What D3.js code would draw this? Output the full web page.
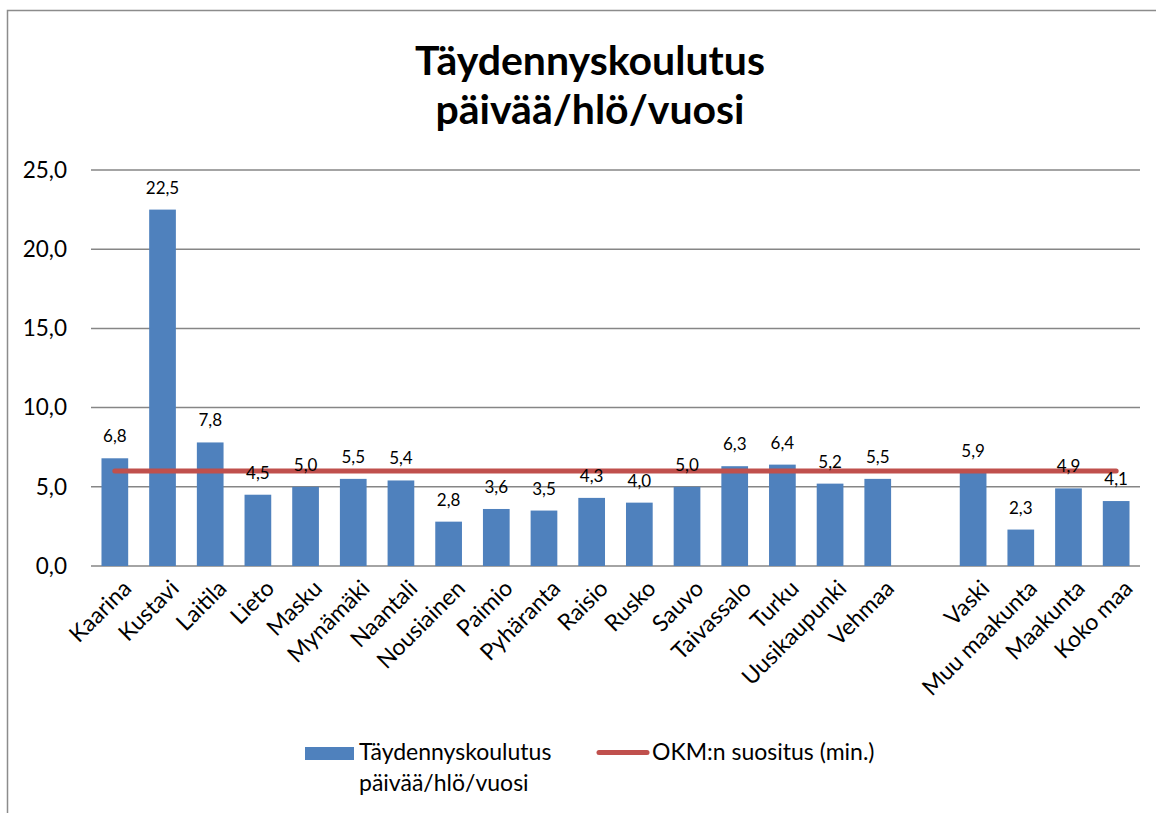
<!DOCTYPE html>
<html>
<head>
<meta charset="utf-8">
<script src="https://cdn.jsdelivr.net/npm/d3@7"></script>
<style>
  body { margin: 0; background: #fff; }
  text { font-family: Lato, "Open Sans", sans-serif; fill: #000; }
</style>
</head>
<body>
<div id="chart"></div>
<script>
// data
var categories = ["Kaarina", "Kustavi", "Laitila", "Lieto", "Masku", "Mynämäki", "Naantali",
  "Nousiainen", "Paimio", "Pyhäranta", "Raisio", "Rusko", "Sauvo", "Taivassalo", "Turku",
  "Uusikaupunki", "Vehmaa", "", "Vaski", "Muu maakunta", "Maakunta", "Koko maa"];
var values = [6.8, 22.5, 7.8, 4.5, 5.0, 5.5, 5.4, 2.8, 3.6, 3.5, 4.3, 4.0, 5.0, 6.3, 6.4,
  5.2, 5.5, null, 5.9, 2.3, 4.9, 4.1];
var recommendation = 6.0;
var yTicks = [0, 5, 10, 15, 20, 25];
var titleLines = ["Täydennyskoulutus", "päivää/hlö/vuosi"];
var legendLines = ["Täydennyskoulutus", "päivää/hlö/vuosi"];
var lineName = "OKM:n suositus (min.)";

var svgWidth = 1156;
var svgHeight = 813;

var margin = { top: 170, right: 16, bottom: 247, left: 91 };
var width = svgWidth - margin.left - margin.right;
var height = svgHeight - margin.top - margin.bottom;

var fmt = function(v) { return d3.format(".1f")(v).replace(".", ","); };

var svg = d3.select("#chart")
  .append("svg")
  .attr("width", svgWidth)
  .attr("height", svgHeight);

// outer chart border
svg.append("rect")
  .attr("x", 7.5)
  .attr("y", 10.5)
  .attr("width", svgWidth + 20)
  .attr("height", svgHeight + 20)
  .attr("fill", "none")
  .attr("stroke", "#8c8c8c")
  .attr("stroke-width", 1.5);

// title
svg.append("text")
  .attr("x", 590)
  .attr("y", 75)
  .attr("text-anchor", "middle")
  .style("font-size", "41px")
  .style("font-weight", "bold")
  .selectAll("tspan")
  .data(titleLines)
  .enter()
  .append("tspan")
  .attr("x", 590)
  .attr("dy", (d, i) => i === 0 ? 0 : 49)
  .text(d => d);

var chartGroup = svg.append("g")
  .attr("transform", `translate(${margin.left},${margin.top})`);

var xScale = d3.scaleBand()
  .domain(d3.range(categories.length))
  .range([0, width])
  .paddingInner(0.44)
  .paddingOuter(0.22);

var yScale = d3.scaleLinear()
  .domain([0, 25])
  .range([height, 0]);

// gridlines
chartGroup.append("g")
  .selectAll("line")
  .data(yTicks)
  .enter()
  .append("line")
  .attr("x1", 0)
  .attr("x2", width)
  .attr("y1", d => yScale(d))
  .attr("y2", d => yScale(d))
  .attr("stroke", "#868686")
  .attr("stroke-width", 1.5);

// y axis labels
var leftAxis = d3.axisLeft(yScale).tickValues(yTicks).tickFormat(fmt).tickSize(0).tickPadding(24);
var yAxis = chartGroup.append("g").call(leftAxis);
yAxis.select(".domain").remove();
yAxis.selectAll("text")
  .style("font-size", "22.5px")
  .style("font-family", "Lato, 'Open Sans', sans-serif");

// bars
var barData = values.map((v, i) => ({ i: i, v: v })).filter(d => d.v !== null);

chartGroup.selectAll(".bar")
  .data(barData)
  .enter()
  .append("rect")
  .attr("class", "bar")
  .attr("x", d => xScale(d.i))
  .attr("width", xScale.bandwidth())
  .attr("y", d => yScale(d.v))
  .attr("height", d => height - yScale(d.v))
  .attr("fill", "#4F81BD");

// recommendation line
var first = 0, last = categories.length - 1;
chartGroup.append("line")
  .attr("x1", xScale(first) + xScale.bandwidth() / 2)
  .attr("x2", xScale(last) + xScale.bandwidth() / 2)
  .attr("y1", yScale(recommendation))
  .attr("y2", yScale(recommendation))
  .attr("stroke", "#C0504D")
  .attr("stroke-width", 5)
  .attr("stroke-linecap", "round");

// value labels
chartGroup.selectAll(".valueLabel")
  .data(barData)
  .enter()
  .append("text")
  .attr("class", "valueLabel")
  .attr("x", d => xScale(d.i) + xScale.bandwidth() / 2)
  .attr("y", d => yScale(d.v) - 16)
  .attr("text-anchor", "middle")
  .style("font-size", "17px")
  .text(d => fmt(d.v));

// category labels
chartGroup.selectAll(".catLabel")
  .data(categories.map((c, i) => ({ c: c, i: i })))
  .enter()
  .append("text")
  .attr("class", "catLabel")
  .attr("transform", d => `translate(${xScale(d.i) + xScale.bandwidth() / 2 + 8},${height + 14}) rotate(-45)`)
  .attr("text-anchor", "end")
  .attr("dy", 14)
  .style("font-size", "23px")
  .text(d => d.c);

// legend
var legend = svg.append("g");
legend.append("rect")
  .attr("x", 305)
  .attr("y", 747)
  .attr("width", 49)
  .attr("height", 13)
  .attr("fill", "#4F81BD");
legend.append("text")
  .attr("x", 359)
  .attr("y", 760)
  .style("font-size", "23px")
  .selectAll("tspan")
  .data(legendLines)
  .enter()
  .append("tspan")
  .attr("x", 359)
  .attr("dy", (d, i) => i === 0 ? 0 : 31)
  .text(d => d);
legend.append("line")
  .attr("x1", 599)
  .attr("x2", 647)
  .attr("y1", 752.5)
  .attr("y2", 752.5)
  .attr("stroke", "#C0504D")
  .attr("stroke-width", 5)
  .attr("stroke-linecap", "round");
legend.append("text")
  .attr("x", 652)
  .attr("y", 760)
  .style("font-size", "23px")
  .text(lineName);
</script>
</body>
</html>
